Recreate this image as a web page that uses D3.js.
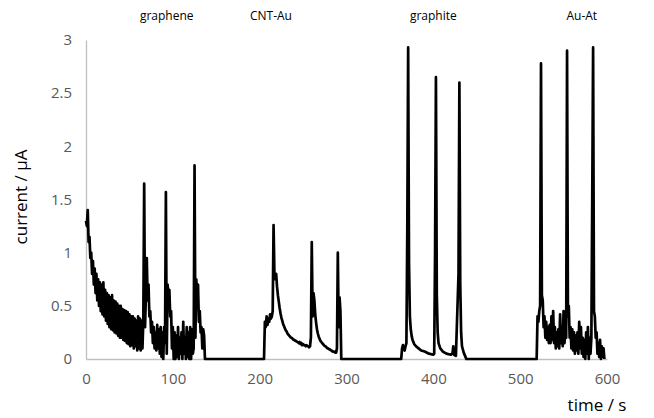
<!DOCTYPE html>
<html>
<head>
<meta charset="utf-8">
<script src="https://cdn.jsdelivr.net/npm/d3@7"></script>
<style>
  body { margin: 0; background: #fff; }
  .tick text { font-family: "Open Sans", sans-serif; font-size: 15px; fill: #595959; }
  .label { font-family: "Open Sans", sans-serif; font-size: 12px; fill: #000; }
  .title { font-family: "Open Sans", sans-serif; font-size: 17px; fill: #000; }
</style>
</head>
<body>
<div id="chart"></div>
<script>
// current in uA, one sample per second from the start time of each block
var grapheneStart = 0;
var grapheneCurrent = [
  1.30, 1.25, 1.40, 1.10, 1.15, 0.95, 1.00, 0.80, 0.92, 0.70,
  0.85, 0.62, 0.80, 0.55, 0.75, 0.50, 0.72, 0.45, 0.70, 0.42,
  0.72, 0.40, 0.65, 0.36, 0.62, 0.33, 0.60, 0.30, 0.58, 0.28,
  0.60, 0.27, 0.55, 0.25, 0.54, 0.24, 0.52, 0.22, 0.50, 0.20,
  0.50, 0.20, 0.47, 0.18, 0.46, 0.17, 0.45, 0.15, 0.44, 0.14,
  0.42, 0.12, 0.40, 0.13, 0.40, 0.10, 0.38, 0.12, 0.36, 0.08,
  0.40, 0.10, 0.38, 0.08, 0.36, 0.10, 0.35, 1.65, 0.30, 0.60,
  0.95, 0.55, 0.70, 0.40, 0.45, 0.25, 0.35, 0.15, 0.30, 0.10,
  0.25, 0.08, 0.32, 0.10, 0.28, 0.05, 0.30, 0.02, 0.25, 0.00,
  0.30, 0.15, 1.57, 0.05, 0.70, 0.60, 0.65, 0.40, 0.45, 0.10,
  0.30, 0.00, 0.25, 0.00, 0.22, 0.02, 0.30, 0.00, 0.20, 0.05,
  0.25, 0.00, 0.35, 0.05, 0.20, 0.00, 0.30, 0.02, 0.25, 0.00,
  0.30, 0.00, 0.28, 0.05, 0.10, 1.82, 0.20, 0.75, 0.60, 0.70,
  0.35, 0.45, 0.25, 0.30, 0.10, 0.28, 0.22, 0.00
];
var cntAuStart = 205;
var cntAuCurrent = [
  0.00, 0.35, 0.30, 0.40, 0.32, 0.38, 0.35, 0.42, 0.38, 0.40,
  0.45, 1.26, 0.80, 0.75, 0.80, 0.68, 0.60, 0.54, 0.48, 0.43,
  0.39, 0.36, 0.33, 0.31, 0.29, 0.27, 0.26, 0.24, 0.23, 0.22,
  0.21, 0.20, 0.20, 0.19, 0.18, 0.18, 0.17, 0.17, 0.16, 0.16,
  0.15, 0.16, 0.14, 0.15, 0.13, 0.14, 0.13, 0.13, 0.12, 0.13,
  0.12, 0.12, 0.11, 0.12, 0.20, 1.10, 0.40, 0.62, 0.55, 0.42,
  0.34, 0.28, 0.24, 0.21, 0.19, 0.17, 0.16, 0.15, 0.14, 0.13,
  0.12, 0.12, 0.11, 0.10, 0.10, 0.09, 0.09, 0.08, 0.08, 0.07,
  0.07, 0.07, 0.06, 0.06, 0.10, 1.00, 0.30, 0.58, 0.45, 0.00,
  0.00
];
var graphiteTime = [363, 364, 365, 366, 367, 368, 369, 370, 371, 372, 373, 374, 375, 376, 377, 378, 380, 383, 386, 390, 395, 400, 401, 402, 403, 404, 405, 406, 408, 411, 415, 420, 422, 423, 424, 426, 429, 430, 431, 432, 433, 435, 437, 438];
var graphiteCurrent = [0.00, 0.10, 0.13, 0.10, 0.08, 0.12, 0.15, 1.20, 2.93, 0.90, 0.40, 0.28, 0.22, 0.18, 0.16, 0.14, 0.12, 0.10, 0.08, 0.07, 0.05, 0.04, 0.05, 1.00, 2.65, 0.60, 0.25, 0.15, 0.10, 0.07, 0.05, 0.04, 0.05, 0.12, 0.04, 0.03, 0.80, 2.60, 0.70, 0.25, 0.12, 0.06, 0.02, 0.00];
var auAtStart = 519;
var auAtCurrent = [
  0.00, 0.40, 0.35, 0.45, 0.50, 2.78, 0.60, 0.55, 0.30, 0.40,
  0.20, 0.35, 0.18, 0.30, 0.15, 0.32, 0.15, 0.40, 0.18, 0.45,
  0.15, 0.30, 0.10, 0.25, 0.12, 0.28, 0.10, 0.42, 0.15, 0.30,
  0.12, 0.45, 0.15, 0.25, 0.20, 2.90, 0.40, 0.50, 0.20, 0.30,
  0.10, 0.28, 0.08, 0.25, 0.05, 0.22, 0.08, 0.25, 0.05, 0.35,
  0.10, 0.30, 0.05, 0.20, 0.02, 0.18, 0.00, 0.25, 0.05, 0.30,
  0.00, 0.20, 0.05, 0.20, 1.50, 2.93, 0.45, 0.40, 0.20, 0.25,
  0.05, 0.15, 0.02, 0.18, 0.00, 0.12, 0.02, 0.10, 0.00
];
var electrodeNames = ["graphene", "CNT-Au", "graphite", "Au-At"];
var electrodeLabelTime = [93, 213, 400, 571];
var xTicks = [0, 100, 200, 300, 400, 500, 600];
var yTicks = [0, 0.5, 1, 1.5, 2, 2.5, 3];

var series = [];
grapheneCurrent.forEach(function(v, i) { series.push({t: grapheneStart + i, i: v}); });
cntAuCurrent.forEach(function(v, i) { series.push({t: cntAuStart + i, i: v}); });
graphiteTime.forEach(function(t, k) { series.push({t: t, i: graphiteCurrent[k]}); });
auAtCurrent.forEach(function(v, i) { series.push({t: auAtStart + i, i: v}); });

var width = 654, height = 418;
var plot = {left: 86, right: 607, top: 40, bottom: 359};

var xScale = d3.scaleLinear().domain([0, 600]).range([plot.left, plot.right]);
var yScale = d3.scaleLinear().domain([0, 3]).range([plot.bottom, plot.top]);

var svg = d3.select("#chart").append("svg")
  .attr("width", width)
  .attr("height", height);

var xAxis = svg.append("g")
  .attr("transform", "translate(0," + plot.bottom + ")")
  .call(d3.axisBottom(xScale).tickValues(xTicks).tickSize(0).tickPadding(14));
var yAxis = svg.append("g")
  .attr("transform", "translate(" + plot.left + ",0)")
  .call(d3.axisLeft(yScale).tickValues(yTicks).tickSize(0).tickPadding(14).tickFormat(d3.format("")));
[xAxis, yAxis].forEach(function(a) {
  a.select(".domain").attr("stroke", "#bfbfbf").attr("stroke-width", 1.3);
});

var line = d3.line()
  .x(function(d) { return xScale(d.t); })
  .y(function(d) { return yScale(d.i); });

svg.append("path")
  .datum(series)
  .attr("d", line)
  .attr("fill", "none")
  .attr("stroke", "#000")
  .attr("stroke-width", 2.7)
  .attr("stroke-linejoin", "round");

svg.selectAll(".label")
  .data(electrodeNames)
  .enter()
  .append("text")
  .attr("class", "label")
  .attr("x", function(d, k) { return xScale(electrodeLabelTime[k]); })
  .attr("y", 20)
  .attr("text-anchor", "middle")
  .text(function(d) { return d; });

svg.append("text")
  .attr("class", "title")
  .attr("text-anchor", "middle")
  .attr("transform", "translate(27,197) rotate(-90)")
  .text("current / µA");

svg.append("text")
  .attr("class", "title")
  .attr("text-anchor", "middle")
  .attr("x", 597)
  .attr("y", 411)
  .text("time / s");
</script>
</body>
</html>
